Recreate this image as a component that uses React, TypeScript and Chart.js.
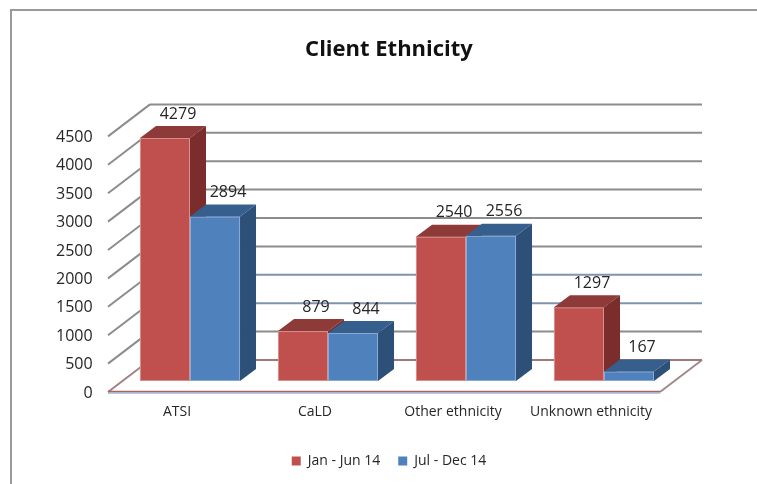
import React, { useEffect, useRef } from "react";
import { Chart, registerables } from "chart.js";

Chart.register(...registerables);

const categories = ["ATSI", "CaLD", "Other ethnicity", "Unknown ethnicity"];
const seriesNames = ["Jan - Jun 14", "Jul - Dec 14"];
const janJun14 = [4279, 879, 2540, 1297];
const julDec14 = [2894, 844, 2556, 167];
const yMin = 0;
const yMax = 4500;
const yStep = 500;

const FONT = "'Open Sans', 'Noto Sans', sans-serif";
const TEXT = "#262626";
const FRONT = { dx: -13, dy: 11 };
const BACK = { dx: 29, dy: -21 };
const DEPTH = { dx: 16, dy: -12 };
const faces = [
  { front: "#C0504D", top: "#8E3A38", side: "#7A2D2B", edge: "#D6908E" },
  { front: "#4F81BD", top: "#375F8D", side: "#2D5079", edge: "#8AAAD3" },
];

const poly = (ctx: CanvasRenderingContext2D, pts: number[][], fill?: string, stroke?: string, lw = 1) => {
  ctx.beginPath();
  ctx.moveTo(pts[0][0], pts[0][1]);
  for (let i = 1; i < pts.length; i++) ctx.lineTo(pts[i][0], pts[i][1]);
  ctx.closePath();
  if (fill) {
    ctx.fillStyle = fill;
    ctx.fill();
  }
  if (stroke) {
    ctx.strokeStyle = stroke;
    ctx.lineWidth = lw;
    ctx.stroke();
  }
};

const line = (ctx: CanvasRenderingContext2D, x1: number, y1: number, x2: number, y2: number, color: string, lw: number) => {
  ctx.beginPath();
  ctx.moveTo(x1, y1);
  ctx.lineTo(x2, y2);
  ctx.strokeStyle = color;
  ctx.lineWidth = lw;
  ctx.stroke();
};

const threeD = {
  id: "threeD",
  beforeDraw(chart: any) {
    const { ctx } = chart;
    ctx.save();
    ctx.strokeStyle = "#9a9a9a";
    ctx.lineWidth = 2;
    ctx.strokeRect(11, 10, 900, 700);
    ctx.restore();
  },
  beforeDatasetsDraw(chart: any) {
    const { ctx, chartArea } = chart;
    const { left, right, bottom } = chartArea;
    const ys = chart.scales.y;
    ctx.save();

    // floor
    const fl = [
      [left + FRONT.dx, bottom + FRONT.dy],
      [right + FRONT.dx, bottom + FRONT.dy],
      [right + BACK.dx, bottom + BACK.dy],
      [left + BACK.dx, bottom + BACK.dy],
    ];
    poly(ctx, fl, "#ffffff");
    line(ctx, fl[1][0], fl[1][1], fl[2][0], fl[2][1], "#a08888", 2);
    line(ctx, fl[3][0], fl[3][1], fl[2][0], fl[2][1], "#a07a7a", 2);

    // back wall and side wall gridlines
    ys.ticks.forEach((t: any) => {
      const y = ys.getPixelForValue(t.value);
      line(ctx, left + FRONT.dx, y + FRONT.dy, left + BACK.dx, y + BACK.dy, t.value === 0 ? "#a08080" : "#8c8c8c", 2);
      if (t.value !== 0) {
        const c = t.value === 1000 || t.value === 1500 ? "#7f93ad" : "#8c8c8c";
        line(ctx, left + BACK.dx, y + BACK.dy, right + BACK.dx, y + BACK.dy, c, 2);
      }
    });

    // front floor edge
    line(ctx, fl[0][0], fl[0][1] - 0.5, fl[1][0], fl[1][1] - 0.5, "#b0605e", 1.5);
    line(ctx, fl[0][0], fl[0][1] + 1, fl[1][0], fl[1][1] + 1, "#6f8fbf", 1);

    // bars
    const n = chart.data.labels.length;
    const labels: any[] = [];
    for (let i = 0; i < n; i++) {
      for (let d = 0; d < chart.data.datasets.length; d++) {
        const el = chart.getDatasetMeta(d).data[i];
        const { x, y, base, width } = el.getProps(["x", "y", "base", "width"], true);
        const x0 = x - width / 2;
        const x1 = x + width / 2;
        const f = faces[d];
        poly(ctx, [[x0, y], [x1, y], [x1, base], [x0, base]], f.front);
        ctx.strokeStyle = f.edge;
        ctx.lineWidth = 1;
        ctx.strokeRect(x0 + 0.5, y + 0.5, width - 1, base - y - 1);
        poly(ctx, [[x0, y], [x1, y], [x1 + DEPTH.dx, y + DEPTH.dy], [x0 + DEPTH.dx, y + DEPTH.dy]], f.top);
        poly(ctx, [[x1, y], [x1 + DEPTH.dx, y + DEPTH.dy], [x1 + DEPTH.dx, base + DEPTH.dy], [x1, base]], f.side);
        labels.push({ x: x + 13, y: y - 24, v: chart.data.datasets[d].data[i] });
      }
    }

    ctx.fillStyle = TEXT;
    ctx.font = `16px ${FONT}`;
    ctx.textAlign = "center";
    ctx.textBaseline = "middle";
    labels.forEach((l) => ctx.fillText(String(l.v), l.x, l.y));
    ctx.restore();
    return false;
  },
};

export default function App() {
  const ref = useRef<HTMLCanvasElement>(null);
  useEffect(() => {
    if (!ref.current) return;
    const chart = new Chart(ref.current, {
      type: "bar",
      data: {
        labels: categories,
        datasets: [
          { label: seriesNames[0], data: janJun14, backgroundColor: faces[0].front, categoryPercentage: 0.725, barPercentage: 1 },
          { label: seriesNames[1], data: julDec14, backgroundColor: faces[1].front, categoryPercentage: 0.725, barPercentage: 1 },
        ],
      },
      options: {
        animation: false,
        responsive: true,
        maintainAspectRatio: false,
        layout: { padding: { left: 105, right: 84, top: 0, bottom: 6 } },
        plugins: {
          title: {
            display: true,
            text: "Client Ethnicity",
            color: "#111",
            font: { family: FONT, size: 22, weight: "bold" },
            padding: { top: 37, bottom: 62 },
          },
          legend: {
            position: "bottom",
            labels: {
              boxWidth: 9,
              boxHeight: 9,
              padding: 18,
              color: TEXT,
              font: { family: FONT, size: 14 },
            },
          },
          tooltip: { enabled: false },
        },
        scales: {
          x: {
            grid: { display: false, drawTicks: false },
            border: { display: false },
            ticks: { color: TEXT, font: { family: FONT, size: 14 }, padding: 23, labelOffset: -13 },
            afterFit: (s: any) => {
              s.height = 55;
            },
          },
          y: {
            min: yMin,
            max: yMax,
            grid: { display: false, drawTicks: false },
            border: { display: false },
            ticks: {
              stepSize: yStep,
              color: TEXT,
              font: { family: FONT, size: 16 },
              mirror: true,
              crossAlign: "far",
              padding: -65,
              labelOffset: 12,
              callback: (v: any) => String(v),
            },
            afterFit: (s: any) => {
              s.width = 16;
            },
          },
        },
      },
      plugins: [threeD],
    });
    return () => chart.destroy();
  }, []);
  return (
    <div style={{ position: "fixed", left: 0, top: 0, width: 757, height: 484, background: "#fff" }}>
      <canvas ref={ref} />
    </div>
  );
}
